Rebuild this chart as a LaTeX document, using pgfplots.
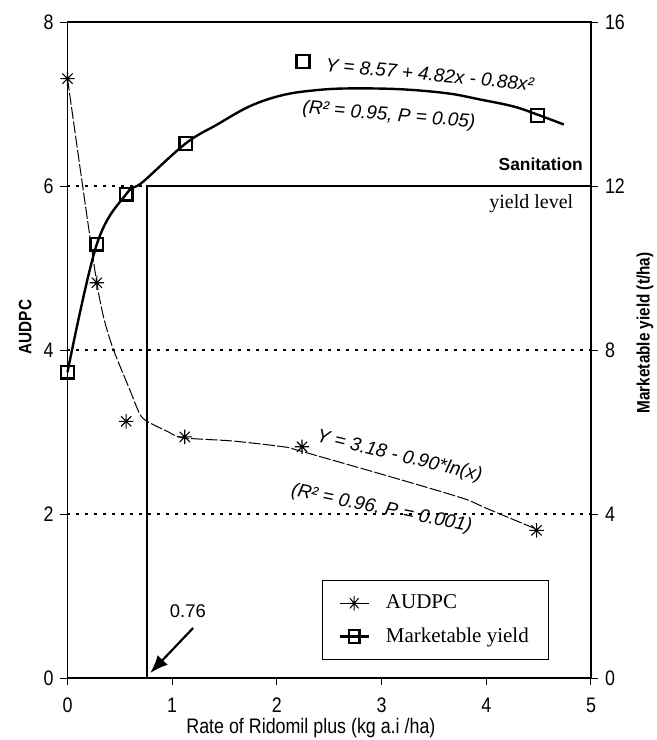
\documentclass[border=0pt]{standalone}
\usepackage{pgfplots}
\pgfplotsset{compat=1.18}
\usepackage{fontspec}
\setmainfont{Liberation Serif}
\newfontfamily\ns{Liberation Sans}[FakeStretch=0.85]
\newfontfamily\nsr{Liberation Sans}
\usetikzlibrary{arrows.meta}
\pgfdeclareplotmark{ast8}{%
 \pgfpathmoveto{\pgfqpoint{-\pgfplotmarksize}{0pt}}\pgfpathlineto{\pgfqpoint{\pgfplotmarksize}{0pt}}%
 \pgfpathmoveto{\pgfqpoint{0pt}{-\pgfplotmarksize}}\pgfpathlineto{\pgfqpoint{0pt}{\pgfplotmarksize}}%
 \pgfpathmoveto{\pgfqpoint{-.707\pgfplotmarksize}{-.707\pgfplotmarksize}}\pgfpathlineto{\pgfqpoint{.707\pgfplotmarksize}{.707\pgfplotmarksize}}%
 \pgfpathmoveto{\pgfqpoint{-.707\pgfplotmarksize}{.707\pgfplotmarksize}}\pgfpathlineto{\pgfqpoint{.707\pgfplotmarksize}{-.707\pgfplotmarksize}}%
 \pgfusepathqstroke}
\begin{document}
\begin{tikzpicture}
\useasboundingbox (-33.75pt,-31pt) rectangle (294.75pt,339pt);
\begin{axis}[
  scale only axis, width=261.75pt, height=328pt,
  xmin=0, xmax=5, ymin=0, ymax=8,
  xtick={0,1,2,3,4,5}, ytick={0,2,4,6,8},
  tick align=outside, xtick pos=left, ytick pos=left,
  major tick length=3.5pt,
  tick style={black, line width=0.5pt},
  axis line style={line width=0.6pt},
  /pgf/number format/assume math mode=true,
  tick label style={font=\ns\fontsize{10.5}{10.5}\selectfont},
  xticklabel style={yshift=-3pt},
  ylabel={\ns\bfseries AUDPC},
  ylabel style={at={(axis description cs:-0.081,0.535)}, anchor=center, font=\fontsize{9}{9}\selectfont},
  xlabel={\ns Rate of Ridomil plus (kg a.i /ha)},
  xlabel style={at={(axis description cs:0.465,-0.076)}, anchor=center, font=\fontsize{10.5}{10.5}\selectfont},
  clip=false,
]
\addplot[black, line width=1.1pt, dash pattern=on 1.1pt off 3.4pt] coordinates {(0,2)(5,2)};
\addplot[black, line width=1.1pt, dash pattern=on 1.1pt off 3.4pt] coordinates {(0,4)(5,4)};
\addplot[black, line width=1.1pt, dash pattern=on 1.1pt off 3.4pt] coordinates {(0,6)(5,6)};
\addplot[black, line width=1.1pt] coordinates {(0.76,0)(0.76,6)(5,6)};
% AUDPC fitted curve
\addplot[black, line width=0.5pt, dash pattern=on 6pt off 1.2pt, smooth, tension=0.45] coordinates {
(0,7.31)(0.28,4.82)(0.41,4.11)(0.60,3.50)(0.69,3.22)(0.76,3.13)(0.95,3.01)(1.10,2.93)(1.58,2.89)(2.06,2.82)(2.22,2.77)(3.15,2.43)(3.78,2.19)(4.0,2.07)(4.47,1.82)};
% AUDPC observed
\addplot[black, only marks, mark=ast8, mark size=3.6pt, line width=0.55pt] coordinates {
(0,7.31)(0.28,4.82)(0.56,3.13)(1.12,2.94)(2.24,2.82)(4.48,1.80)};
\node[rotate=-5.4, font=\nsr\itshape\fontsize{9.5}{9.5}\selectfont] at (axis cs:3.46,7.36) {Y = 8.57 + 4.82x - 0.88x²};
\node[rotate=-4.8, font=\nsr\itshape\fontsize{9.5}{9.5}\selectfont] at (axis cs:3.07,6.86) {(R² = 0.95, P = 0.05)};
\node[font=\nsr\bfseries\fontsize{8.7}{8.7}\selectfont] at (axis cs:4.52,6.27) {Sanitation};
\node[font=\fontsize{10}{10}\selectfont] at (axis cs:4.43,5.78) {yield level};
\node[rotate=-13.5, font=\nsr\itshape\fontsize{9.5}{9.5}\selectfont] at (axis cs:3.17,2.70) {Y = 3.18 - 0.90*ln(x)};
\node[rotate=-11.5, font=\nsr\itshape\fontsize{9.5}{9.5}\selectfont] at (axis cs:3.0,2.06) {(R² = 0.96, P = 0.001)};
\node[font=\nsr\fontsize{9.2}{9.2}\selectfont] at (axis cs:1.15,0.82) {0.76};
\draw[line width=1.1pt, -{Latex[length=9pt,width=7pt]}] (axis cs:1.2,0.61) -- (axis cs:0.79,0.06);
\end{axis}
\begin{axis}[
  scale only axis, width=261.75pt, height=328pt,
  xmin=0, xmax=5, ymin=0, ymax=16,
  axis x line=none, axis y line*=right,
  ytick={0,4,8,12,16},
  tick align=outside,
  major tick length=3.5pt,
  tick style={black, line width=0.5pt},
  axis line style={line width=0.6pt},
  /pgf/number format/assume math mode=true,
  tick label style={font=\ns\fontsize{10.5}{10.5}\selectfont},
  ylabel={\ns\bfseries Marketable yield (t/ha)},
  ylabel style={at={(axis description cs:1.103,0.526)}, anchor=center, font=\fontsize{9}{9}\selectfont},
  legend style={at={(axis description cs:0.486,0.149)}, anchor=north west, draw=black, line width=0.6pt,
    font=\fontsize{10.5}{10.5}\selectfont, inner xsep=8pt, inner ysep=5pt, row sep=4pt,
    cells={anchor=west}, /tikz/every odd column/.style={column sep=6pt}},
  legend cell align=left,
  legend image post style={xscale=0.85},
  clip=false,
]
\addlegendimage{black, line width=0.5pt, mark=ast8, mark size=3.6pt}
\addlegendentry{AUDPC}
\addplot[black, line width=1.2pt, smooth, tension=0.6, forget plot] coordinates {
(0,7.46)(0.28,10.58)(0.56,11.8)(0.72,12.1)(1.13,13.04)(1.43,13.5)(1.745,13.95)(2.06,14.22)(2.385,14.34)(2.7,14.38)(3.18,14.36)(3.63,14.26)(3.94,14.11)(4.26,13.94)(4.49,13.74)(4.74,13.5)};
\addplot[black, line width=1.2pt, only marks, mark=square, mark size=3.2pt, forget plot] coordinates {
(0,7.46)(0.28,10.58)(0.56,11.8)(1.13,13.04)(2.25,15.04)(4.49,13.72)};
\addlegendimage{black, line width=1.2pt, mark=square, mark size=3.2pt}
\addlegendentry{Marketable yield}
\end{axis}
\end{tikzpicture}
\end{document}
